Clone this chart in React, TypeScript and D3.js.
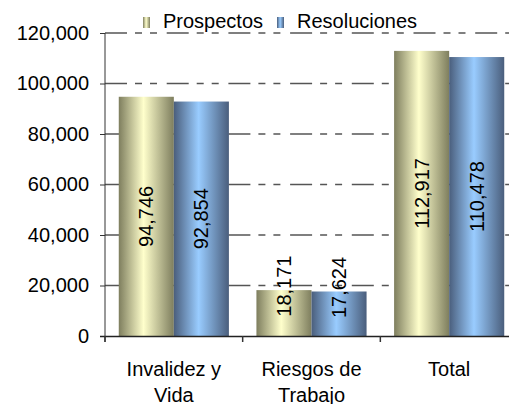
import React, { useEffect, useRef } from "react";
import * as d3 from "d3";

// chart values
const categories = [["Invalidez y", "Vida"], ["Riesgos de", "Trabajo"], ["Total"]];
const seriesNames = ["Prospectos", "Resoluciones"];
const prospectos = [94746, 18171, 112917];
const resoluciones = [92854, 17624, 110478];
const yTicks = [0, 20000, 40000, 60000, 80000, 100000, 120000];

const W = 509, H = 404;
const FONT = "Arial, 'Liberation Sans', sans-serif";

export default function App() {
  const ref = useRef<SVGSVGElement>(null);

  useEffect(() => {
    const svg = d3.select(ref.current);
    svg.selectAll("*").remove();

    // gradients for the cylinder-ish look of the bars
    const defs = svg.append("defs");
    const grads = [
      { id: "gYel", edge: "#7e7e5e", mid: "#ffffcc" },
      { id: "gBlu", edge: "#4a5e7c", mid: "#99ccff" },
    ];
    grads.forEach((g) => {
      const lg = defs.append("linearGradient").attr("id", g.id)
        .attr("x1", "0%").attr("x2", "100%").attr("y1", "0%").attr("y2", "0%");
      lg.append("stop").attr("offset", "0%").attr("stop-color", g.edge);
      lg.append("stop").attr("offset", "45%").attr("stop-color", g.mid);
      lg.append("stop").attr("offset", "100%").attr("stop-color", g.edge);
    });

    const left = 105, right = 518, top = 33, bottom = 336;
    const keys = categories.map((c) => c.join(" "));

    const x = d3.scaleBand<string>().domain(keys).range([left, right]).padding(0);
    const xs = d3.scaleBand<string>().domain(seriesNames).range([0, x.bandwidth()])
      .paddingInner(0).paddingOuter(0.25);
    const y = d3.scaleLinear().domain([0, 120000]).range([bottom, top]);

    // gridlines (dash dot dot)
    svg.append("g").selectAll("line")
      .data(yTicks.filter((d) => d > 0))
      .enter().append("line")
      .attr("x1", left).attr("x2", right)
      .attr("y1", (d) => y(d)).attr("y2", (d) => y(d))
      .attr("stroke", "#555").attr("stroke-width", 1.5)
      .attr("stroke-dasharray", "22,8,7,8,7,9.7");

    // bars
    const data = keys.map((k, i) => ({ k, vals: [prospectos[i], resoluciones[i]] }));
    const groups = svg.append("g").selectAll("g").data(data).enter().append("g")
      .attr("transform", (d) => "translate(" + x(d.k) + ",0)");
    groups.selectAll("rect")
      .data((d) => d.vals.map((v, j) => ({ v, s: seriesNames[j], j })))
      .enter().append("rect")
      .attr("x", (d) => xs(d.s)!)
      .attr("width", xs.bandwidth())
      .attr("y", (d) => y(d.v))
      .attr("height", (d) => bottom - y(d.v))
      .attr("fill", (d) => (d.j === 0 ? "url(#gYel)" : "url(#gBlu)"));

    // value labels, rotated
    groups.selectAll("text")
      .data((d) => d.vals.map((v, j) => ({ v, s: seriesNames[j] })))
      .enter().append("text")
      .attr("transform", (d) => {
        const cx = xs(d.s)! + xs.bandwidth() / 2;
        const h = bottom - y(d.v);
        const cy = h < 70 ? y(d.v) - 4 : y(d.v) + h / 2;
        return "translate(" + cx + "," + cy + ") rotate(-90)";
      })
      .attr("text-anchor", "middle").attr("dy", "0.35em")
      .style("font-family", FONT).style("font-size", "20px").attr("fill", "#000")
      .text((d) => d3.format(",")(d.v));

    // y axis
    const ya = svg.append("g").attr("transform", "translate(" + left + ",0)")
      .call(d3.axisLeft(y).tickValues(yTicks).tickSize(5).tickPadding(11).tickFormat(d3.format(",")));
    ya.select(".domain").attr("d", "M0," + top + "V" + (bottom + 6)).attr("stroke", "#333");
    ya.selectAll(".tick line").attr("stroke", "#333");
    ya.selectAll(".tick text").style("font-family", FONT).style("font-size", "20px").attr("fill", "#000");

    // x axis with ticks between categories
    const xa = svg.append("g");
    xa.append("line").attr("x1", left - 5).attr("x2", W)
      .attr("y1", bottom + 0.5).attr("y2", bottom + 0.5).attr("stroke", "#222").attr("stroke-width", 1.5);
    xa.selectAll("line.tk").data([...keys.map((k) => x(k)!), right]).enter().append("line")
      .attr("class", "tk")
      .attr("x1", (d) => d).attr("x2", (d) => d)
      .attr("y1", bottom).attr("y2", bottom + 6).attr("stroke", "#333").attr("stroke-width", 1.5);
    const labels = xa.selectAll("text.cat").data(categories).enter().append("text")
      .attr("class", "cat")
      .attr("text-anchor", "middle")
      .style("font-family", FONT).style("font-size", "20px").attr("fill", "#000");
    labels.each(function (d, i) {
      const cx = x(keys[i])! + x.bandwidth() / 2;
      d.forEach((line, li) => {
        d3.select(this).append("tspan").attr("x", cx).attr("y", 376 + li * 25.5).text(line);
      });
    });

    // legend
    const leg = svg.append("g");
    const legX = [143, 277];
    seriesNames.forEach((s, i) => {
      leg.append("rect").attr("x", legX[i]).attr("y", 17).attr("width", 7).attr("height", 11)
        .attr("fill", i === 0 ? "url(#gYel)" : "url(#gBlu)");
      leg.append("text").attr("x", legX[i] + 20).attr("y", 28)
        .style("font-family", FONT).style("font-size", "20px").attr("fill", "#000").text(s);
    });
  }, []);

  return (
    <svg ref={ref} width={W} height={H}
      style={{ position: "absolute", left: 0, top: 0, background: "#fff" }} />
  );
}
